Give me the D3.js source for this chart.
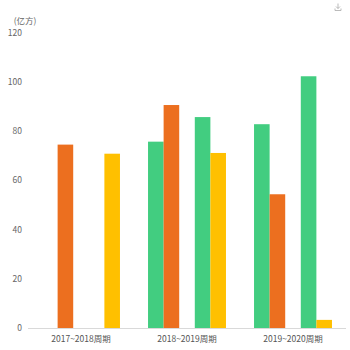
<!DOCTYPE html>
<html><head><meta charset="utf-8">
<script src="https://cdn.jsdelivr.net/npm/d3@7/dist/d3.min.js"></script>
<style>html,body{margin:0;padding:0;background:#fff;}svg{display:block;font-family:"Noto Sans CJK SC","Noto Sans",sans-serif;}</style>
</head><body>
<svg id="c" width="350" height="350"></svg>
<script>
const categories = ["2017~2018周期", "2018~2019周期", "2019~2020周期"];
const seriesA = [null, 75.8, 82.9];
const seriesB = [74.6, 90.7, 54.4];
const seriesC = [null, null, null];
const seriesD = [null, 85.8, 102.4];
const seriesE = [70.9, 71.2, 3.3];
const seriesColors = ["#42CD80", "#EC6F1F", "#9E9E9E", "#42CD80", "#FFC000"];
const yTicks = [0, 20, 40, 60, 80, 100, 120];
const unitLabel = "(亿方)";

const allSeries = [seriesA, seriesB, seriesC, seriesD, seriesE];
const svg = d3.select("#c");
const x0 = d3.scaleBand().domain(categories).range([28, 346]);
const inner = d3.scaleBand().domain(d3.range(allSeries.length)).range([0, x0.bandwidth()]).paddingOuter(0.9).paddingInner(0);
const y = d3.scaleLinear().domain([0, 120]).range([328, 33]);

// y labels
svg.append("g").selectAll("text").data(yTicks).join("text")
  .attr("x", 22).attr("y", d => y(d)).attr("dy", "0.35em")
  .attr("text-anchor", "end").attr("font-size", 8.5).attr("fill", "#666")
  .text(d => d);
svg.append("text").attr("x", 25).attr("y", 24).attr("text-anchor", "middle")
  .attr("font-size", 8.5).attr("fill", "#666").text(unitLabel);

// bars
allSeries.forEach((s, si) => {
  svg.append("g").selectAll("rect").data(s.map((v, i) => ({v, c: categories[i]})).filter(d => d.v != null))
    .join("rect")
    .attr("x", d => x0(d.c) + inner(si))
    .attr("width", inner.bandwidth())
    .attr("y", d => y(d.v))
    .attr("height", d => y(0) - y(d.v))
    .attr("fill", seriesColors[si]);
});

// x axis
svg.append("line").attr("x1", 28).attr("x2", 346).attr("y1", 328.5).attr("y2", 328.5)
  .attr("stroke", "#d9d9d9").attr("stroke-width", 1);
svg.append("g").selectAll("text").data(categories).join("text")
  .attr("x", d => x0(d) + x0.bandwidth() / 2).attr("y", 339).attr("dy", "0.35em")
  .attr("text-anchor", "middle").attr("font-size", 8.5).attr("fill", "#555")
  .text(d => d);

// download icon
const ic = svg.append("g").attr("transform", "translate(338,7)").attr("stroke", "#aaa").attr("fill", "none").attr("stroke-width", 0.8);
ic.append("path").attr("d", "M0,-3.5V1.5M-2,-0.5L0,1.5L2,-0.5");
ic.append("path").attr("d", "M-3,1.5V3.5H3V1.5");
</script>
</body></html>
